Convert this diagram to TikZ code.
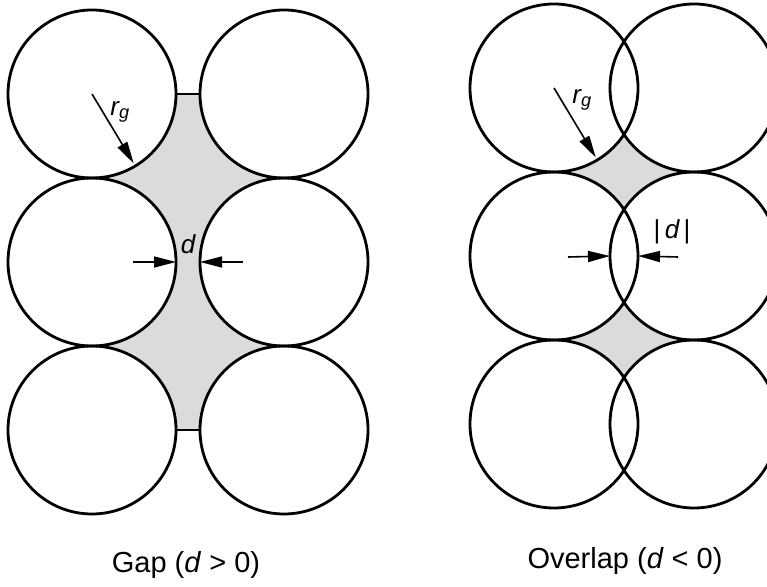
\documentclass[tikz,border=0pt]{standalone}
\usepackage{fontspec}
\setmainfont{Liberation Sans}
\usetikzlibrary{calc,arrows.meta}
\tikzset{
  grain/.style={line width=2.8pt},
  pore/.style={fill=black!14},
  dimarrow/.style={line width=1.6pt,-{Triangle[length=22pt,width=11pt]}},
  lbl/.style={font=\fontsize{26}{28}\selectfont\itshape},
  caption/.style={font=\fontsize{29}{32}\selectfont,anchor=base}
}

\begin{document}
\begin{tikzpicture}[x=1pt,y=1pt]
        \useasboundingbox (0,0) rectangle (767,586);
        \clip (0,0) rectangle (767,586);

        % Gap: columns A and B, d = 24
        \coordinate (A1) at (92,492);
        \coordinate (A2) at (92,324);
        \coordinate (A3) at (92,156);
        \coordinate (B1) at (284,492);
        \coordinate (B2) at (284,324);
        \coordinate (B3) at (284,156);

        % Overlap: columns C and D, |d| = 28
        \coordinate (C1) at (554,498);
        \coordinate (C2) at (554,330);
        \coordinate (C3) at (554,162);
        \coordinate (D1) at (694,498);
        \coordinate (D2) at (694,330);
        \coordinate (D3) at (694,162);

        % Poren
        \fill[pore] (A1) rectangle (B3);
        \fill[pore] (C1) rectangle (D3);
        \foreach \c in {A1,A2,A3,B1,B2,B3,C1,C2,C3,D1,D2,D3}
            \fill[white] (\c) circle[radius=84];

        % Koerner
        \foreach \c in {A1,A2,A3,B1,B2,B3,C1,C2,C3,D1,D2,D3}
            \draw[grain] (\c) circle[radius=84];
        \draw[grain] ($(A1)+(84,0)$) -- ($(B1)-(84,0)$);
        \draw[grain] ($(A3)+(84,0)$) -- ($(B3)-(84,0)$);

        % Radius r_g
        \draw[dimarrow] (A1) -- ($(A1)+(-59:81)$);
        \draw[dimarrow] (C1) -- ($(C1)+(-59:81)$);
        \node[lbl] (rgA) at (120,474) {r\textsubscript{\itshape g}};
        \node[lbl] (rgC) at (582,486) {r\textsubscript{\itshape g}};

        % Abstand d
        \coordinate (dA) at (133,324);
        \coordinate (dB) at (243,324);
        \draw[dimarrow] (dA) -- ($(A2)+(84,0)$);
        \draw[dimarrow] (dB) -- ($(B2)-(84,0)$);
        \node[lbl] (dGap) at (188,342) {d};

        \coordinate (dC) at (568,329);
        \coordinate (dD) at (678,329);
        \draw[dimarrow] (dC) -- ($(D2)-(84,0)$);
        \draw[dimarrow] (dD) -- ($(C2)+(84,0)$);
        \node[lbl] (dOver) at (672,354) {\upshape|\,\itshape d\,\upshape|};

        \node[caption] (gap) at (186,14) {Gap (\textit{d} > 0)};
        \node[caption] (overlap) at (625,18) {Overlap (\textit{d} < 0)};
    \end{tikzpicture}
\end{document}
